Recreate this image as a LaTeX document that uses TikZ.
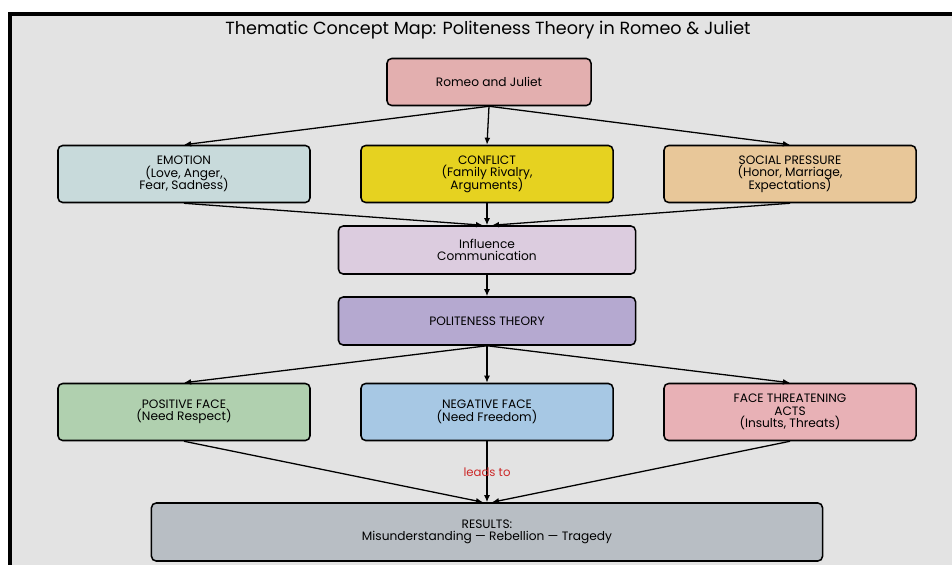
\documentclass[tikz,border=0pt]{standalone}
\usepackage{fontspec}
\setmainfont{Poppins}
\usetikzlibrary{arrows.meta}

\definecolor{bggray}{HTML}{E3E3E3}
\definecolor{romeofill}{HTML}{E3AFAF}
\definecolor{emotionfill}{HTML}{C8DADB}
\definecolor{conflictfill}{HTML}{E6D220}
\definecolor{socialfill}{HTML}{E8C799}
\definecolor{influencefill}{HTML}{DCCCDF}
\definecolor{politefill}{HTML}{B5A9D0}
\definecolor{positivefill}{HTML}{B0D0AF}
\definecolor{negativefill}{HTML}{A7C8E4}
\definecolor{threatfill}{HTML}{E8B1B6}
\definecolor{resultfill}{HTML}{B8BEC4}
\definecolor{leadred}{HTML}{CC2A2A}

\begin{document}
\begin{tikzpicture}[x=0.03cm,y=-0.03cm,
    box/.style={draw=black, line width=1.3pt, rounded corners=4pt, align=center,
        inner sep=0pt, font=\fontsize{10.4}{10.7}\selectfont\setlength{\lineskiplimit}{-6pt}},
    link/.style={-{Latex[length=6pt,width=5pt]}, line width=1.1pt}]
    \def\rowwidth{7.56cm}
    \def\rowheight{1.71cm}

    % page and frame
    \useasboundingbox (0,0) rectangle (952,565);
    \fill[bggray] (10,14) rectangle (952,565);
    \draw[line width=3.5pt] (10,565) -- (10,14) -- (952,14);

    % title
    \node[font=\fontsize{15}{17}\selectfont] (title) at (488,30) {Thematic Concept Map: Politeness Theory in Romeo \& Juliet};

    % top
    \node[box, fill=romeofill, minimum width=6.12cm, minimum height=1.41cm] (romeo) at (489,82) {Romeo and Juliet};

    % themes
    \node[box, fill=emotionfill, minimum width=\rowwidth, minimum height=\rowheight] (emotion) at (184,174) {EMOTION\\(Love, Anger,\\Fear, Sadness)};
    \node[box, fill=conflictfill, minimum width=\rowwidth, minimum height=\rowheight] (conflict) at (487,174) {CONFLICT\\(Family Rivalry,\\Arguments)};
    \node[box, fill=socialfill, minimum width=\rowwidth, minimum height=\rowheight] (social) at (790,174) {SOCIAL PRESSURE\\(Honor, Marriage,\\Expectations)};

    % middle
    \node[box, fill=influencefill, minimum width=8.91cm, minimum height=1.44cm] (influence) at (487,250) {Influence\\Communication};
    \node[box, fill=politefill, minimum width=8.91cm, minimum height=1.44cm] (polite) at (487,321) {POLITENESS THEORY};

    % faces
    \node[box, fill=positivefill, minimum width=\rowwidth, minimum height=\rowheight] (positive) at (184,412) {POSITIVE FACE\\(Need Respect)};
    \node[box, fill=negativefill, minimum width=\rowwidth, minimum height=\rowheight] (negative) at (487,412) {NEGATIVE FACE\\(Need Freedom)};
    \node[box, fill=threatfill, minimum width=\rowwidth, minimum height=\rowheight] (threat) at (790,412) {FACE THREATENING\\ACTS\\(Insults, Threats)};

    % bottom
    \node[box, fill=resultfill, minimum width=20.13cm, minimum height=1.74cm] (results) at (487,532) {RESULTS:\\Misunderstanding --- Rebellion --- Tragedy};

    % arrows
    \foreach \t/\dx in {emotion/-0.12cm,conflict/0cm,social/0.15cm} {
        \draw[link] (romeo.south) -- (\t.north);
        \draw[link] (\t.south) -- ([xshift=\dx]influence.north);
    }
    \draw[link] (influence) -- (polite);
    \foreach \t/\dx in {positive/-0.12cm,threat/0.15cm} {
        \draw[link] (polite.south) -- (\t.north);
        \draw[link] (\t.south) -- ([xshift=\dx]results.north);
    }
    \draw[link] (polite.south) -- (negative.north);
    \draw[link] (negative.south) -- node[text=leadred, font=\fontsize{10}{11}\selectfont] (leads) {leads to} (results.north);

\end{tikzpicture}
\end{document}
